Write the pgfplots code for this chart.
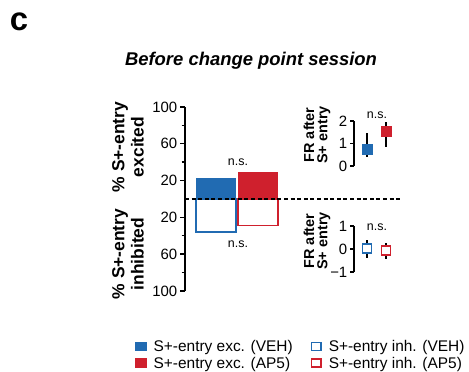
\documentclass[border=0pt]{standalone}
\usepackage{fontspec}
\setmainfont{Liberation Sans}
\usepackage{pgfplots}
\pgfplotsset{compat=1.18}
\definecolor{vehblue}{RGB}{33,107,178}
\definecolor{apred}{RGB}{207,32,45}
\begin{document}
\begin{tikzpicture}[x=1bp,y=1bp]
\path[use as bounding box] (0bp,0bp) rectangle (469bp,372bp);
\pgfplotsset{
  panel/.style={scale only axis, hide x axis, axis y line=left,
    y axis line style={-, line width=1.5bp},
    every tick/.style={black, line width=1.4bp},
    tick align=outside, major tick length=5bp, minor tick length=3.5bp,
    clip=false,
    yticklabel style={font=\fontsize{15}{15}\selectfont, inner sep=2.5bp},
    /pgf/number format/assume math mode=true}
}
% main bar axis
\begin{axis}[panel, at={(185bp,81bp)}, anchor=south west,
  width=105bp, height=184bp, xmin=0, xmax=105, ymin=-100, ymax=100,
  ytick={-100,-60,-20,20,60,100}, yticklabels={100,60,20,20,60,100},
  minor ytick={-80,-40,40,80},
  legend columns=2,
  legend style={draw=none, fill=none, at={(-0.51,-0.245)}, anchor=north west,
    font=\fontsize{15.5}{17}\selectfont, row sep=0bp,
    /tikz/every odd column/.append style={column sep=5bp},
    /tikz/every even column/.append style={column sep=16bp}},
  legend cell align=left]
\addplot[ybar, bar width=40, bar shift=0pt, fill=vehblue, draw=none,
  legend image code/.code={\fill[vehblue] (0bp,-4.5bp) rectangle (12bp,5bp);}]
  coordinates {(31,23)};
\addlegendentry{S+-entry exc. (VEH)}
\addplot[ybar, bar width=40, bar shift=0pt, fill=white, draw=vehblue, line width=1.6bp,
  legend image code/.code={\draw[vehblue, line width=1.6bp, fill=white] (0.8bp,-3.7bp) rectangle (10.2bp,4.2bp);}]
  coordinates {(31,-36)};
\addlegendentry{S+-entry inh. (VEH)}
\addplot[ybar, bar width=40, bar shift=0pt, fill=apred, draw=none,
  legend image code/.code={\fill[apred] (0bp,-4.5bp) rectangle (12bp,5bp);}]
  coordinates {(73,29)};
\addlegendentry{S+-entry exc. (AP5)}
\addplot[ybar, bar width=40, bar shift=0pt, fill=white, draw=apred, line width=1.6bp,
  legend image code/.code={\draw[apred, line width=1.6bp, fill=white] (0.8bp,-3.7bp) rectangle (10.2bp,4.2bp);}]
  coordinates {(73,-29)};
\addlegendentry{S+-entry inh. (AP5)}
\addplot[forget plot, black, line width=1.4bp, dash pattern=on 4bp off 2.6bp]
  coordinates {(0,0) (215,0)};
\end{axis}
% upper FR axis
\begin{axis}[panel, at={(354bp,206bp)}, anchor=south west,
  width=41bp, height=45bp, xmin=0, xmax=41, ymin=0, ymax=2,
  ytick={0,1,2}, yticklabels={0,1,2}, major tick length=4bp]
\addplot[only marks, mark=square*, mark size=5.2bp, mark options={draw=vehblue, fill=vehblue, line width=0.5bp},
  error bars/.cd, y dir=both, y explicit, error mark=none,
  error bar style={black, line width=1.8bp}]
  coordinates {(13,0.75) += (0,0.70) -= (0,0.35)};
\addplot[only marks, mark=square*, mark size=5.2bp, mark options={draw=apred, fill=apred, line width=0.5bp},
  error bars/.cd, y dir=both, y explicit, error mark=none,
  error bar style={black, line width=1.8bp}]
  coordinates {(32,1.55) += (0,0.40) -= (0,0.70)};
\end{axis}
% lower FR axis
\begin{axis}[panel, at={(354bp,100bp)}, anchor=south west,
  width=41bp, height=46bp, xmin=0, xmax=41, ymin=-1, ymax=1,
  ytick={-1,0,1}, yticklabels={−1,0,1}, major tick length=4bp]
\addplot[only marks, mark=square*, mark size=4.5bp, mark options={draw=vehblue, fill=white, line width=1.9bp},
  error bars/.cd, y dir=both, y explicit, error mark=none,
  error bar style={black, line width=1.8bp}]
  coordinates {(13,0.02) += (0,0.38) -= (0,0.42)};
\addplot[only marks, mark=square*, mark size=4.5bp, mark options={draw=apred, fill=white, line width=1.9bp},
  error bars/.cd, y dir=both, y explicit, error mark=none,
  error bar style={black, line width=1.8bp}]
  coordinates {(32,-0.06) += (0,0.31) -= (0,0.39)};
\end{axis}
% texts
\node[font=\fontsize{33}{33}\selectfont\bfseries] at (19bp,350bp) {c};
\node[font=\fontsize{18.5}{19}\selectfont\bfseries\itshape] at (251bp,311bp) {Before change point session};
\node[rotate=90, align=center, font=\fontsize{17.5}{19.5}\selectfont\bfseries] at (128bp,225bp) {\% S+-entry\\excited};
\node[rotate=90, align=center, font=\fontsize{17.5}{19.5}\selectfont\bfseries] at (128bp,118bp) {\% S+-entry\\inhibited};
\node[rotate=90, align=center, font=\fontsize{14.5}{13.5}\selectfont\bfseries] at (317bp,237bp) {FR after\\S+ entry};
\node[rotate=90, align=center, font=\fontsize{14.5}{13.5}\selectfont\bfseries] at (317bp,131bp) {FR after\\S+ entry};
\node[font=\fontsize{12.5}{12.5}\selectfont] at (238bp,210bp) {n.s.};
\node[font=\fontsize{12.5}{12.5}\selectfont] at (238bp,128bp) {n.s.};
\node[font=\fontsize{12.5}{12.5}\selectfont] at (377bp,257bp) {n.s.};
\node[font=\fontsize{12.5}{12.5}\selectfont] at (377bp,145bp) {n.s.};
\end{tikzpicture}
\end{document}
